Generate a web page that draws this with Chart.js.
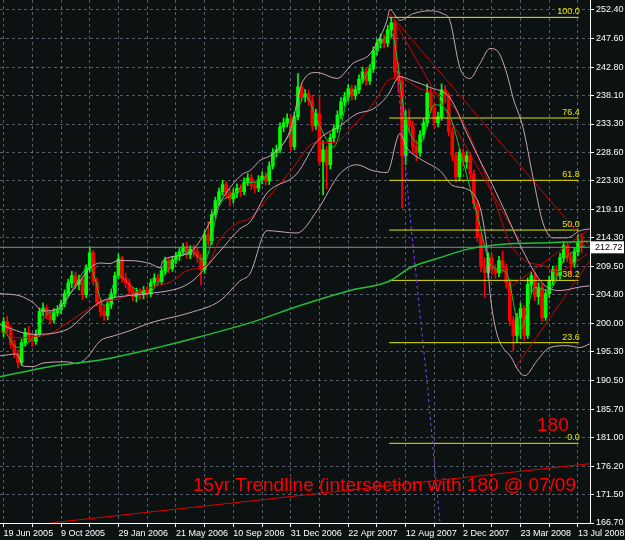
<!DOCTYPE html>
<html>
<head>
<meta charset="utf-8">
<script src="https://cdn.jsdelivr.net/npm/chart.js@4.4.0/dist/chart.umd.min.js"></script>
<style>
  html, body { margin: 0; padding: 0; background: #0c1212; }
  #c { display: block; }
</style>
</head>
<body>
<canvas id="c" width="625" height="540"></canvas>
<script>
// weekly GBP/JPY style candles, week 0 = 19 Jun 2005
const opens = [198.5,200.3,199.0,196.5,195.0,193.5,196.8,198.5,197.4,197.0,198.2,202.0,202.6,201.5,200.6,201.8,202.3,203.3,205.0,206.8,
  208.0,206.5,207.3,204.8,209.2,211.8,207.0,203.5,202.0,201.3,203.2,205.0,208.0,210.8,207.5,206.8,205.5,204.5,205.2,204.8,
  205.6,205.0,206.8,207.6,207.0,208.8,210.5,209.2,210.6,211.2,212.0,212.8,211.5,212.4,212.0,211.0,209.0,214.8,213.8,218.2,
  220.5,222.0,223.2,221.8,220.8,221.8,222.6,222.0,223.6,224.3,223.0,222.6,224.0,224.6,223.8,226.3,228.5,229.0,232.8,233.5,
  234.2,229.5,234.5,239.5,237.8,238.3,237.2,233.0,235.0,227.0,229.0,226.5,231.0,232.5,234.8,237.0,237.8,239.2,238.0,239.0,
  240.8,242.0,240.5,242.5,245.5,246.8,247.5,246.8,249.0,250.2,242.0,240.5,228.0,234.0,233.0,229.5,228.5,231.5,233.5,238.5,
  236.0,233.5,234.5,239.0,238.0,232.0,228.0,224.5,228.5,227.0,228.0,225.0,220.0,214.5,209.5,208.5,211.0,209.0,208.5,210.5,
  209.3,206.8,200.5,198.0,201.0,202.5,198.0,206.5,208.0,204.5,206.0,201.0,205.0,207.2,209.0,208.0,211.0,213.0,211.0,210.0,
  212.0,213.5];
const closes = [200.3,199.0,196.5,195.0,193.5,196.8,198.5,197.4,197.0,198.2,202.0,202.6,201.5,200.6,201.8,202.3,203.3,205.0,206.8,208.0,
  206.5,207.3,204.8,209.2,211.8,207.0,203.5,202.0,201.3,203.2,205.0,208.0,210.8,207.5,206.8,205.5,204.5,205.2,204.8,205.6,
  205.0,206.8,207.6,207.0,208.8,210.5,209.2,210.6,211.2,212.0,212.8,211.5,212.4,212.0,211.0,209.0,214.8,213.8,218.2,220.5,
  222.0,223.2,221.8,220.8,221.8,222.6,222.0,223.6,224.3,223.0,222.6,224.0,224.6,223.8,226.3,228.5,229.0,232.8,233.5,234.2,
  229.5,234.5,239.5,237.8,238.3,237.2,233.0,235.0,227.0,229.0,226.5,231.0,232.5,234.8,237.0,237.8,239.2,238.0,239.0,240.8,
  242.0,240.5,242.5,245.5,246.8,247.5,246.8,249.0,250.2,242.0,240.5,228.0,234.0,233.0,229.5,228.5,231.5,233.5,238.5,236.0,
  233.5,234.5,239.0,238.0,232.0,228.0,224.5,228.5,227.0,228.0,225.0,220.0,214.5,209.5,208.5,211.0,209.0,208.5,210.5,209.3,
  206.8,200.5,198.0,201.0,202.5,198.0,206.5,208.0,204.5,206.0,201.0,205.0,207.2,209.0,208.0,211.0,213.0,211.0,210.0,212.0,
  213.5,212.72];
const highs = [201.0,201.2,199.6,197.2,195.6,197.4,199.2,199.5,198.3,198.9,202.6,203.4,203.1,202.0,202.5,203.0,203.9,205.6,207.4,208.7,
  208.6,208.1,207.8,209.8,212.8,212.2,207.6,204.2,203.0,203.9,205.7,208.6,211.6,211.2,208.4,207.4,206.1,205.9,205.8,206.2,
  206.2,207.4,208.3,208.2,209.4,211.1,211.0,211.2,211.9,212.7,213.4,213.6,213.0,213.1,212.6,211.6,215.5,217.0,218.8,221.1,
  222.6,223.9,223.7,222.5,222.5,223.3,223.2,224.3,225.0,224.9,223.7,224.7,225.3,225.2,227.0,229.2,229.8,233.5,234.3,235.0,
  234.8,235.2,241.7,240.2,239.1,239.0,237.9,235.8,237.7,230.5,229.6,231.7,233.2,235.5,237.7,238.6,239.9,239.8,239.7,241.5,
  242.8,242.6,243.2,246.2,247.5,248.3,248.2,249.8,251.1,250.6,243.5,241.2,235.5,235.8,233.8,230.6,232.2,234.2,240.0,239.2,
  236.8,235.3,240.0,239.7,238.5,232.7,228.6,229.1,229.2,228.7,228.5,225.6,220.6,215.1,211.0,211.8,211.6,209.8,211.2,212.1,
  209.9,207.4,201.2,201.7,203.4,203.0,207.6,208.6,208.6,206.8,206.6,205.7,207.9,209.6,209.7,211.7,213.6,213.5,211.8,212.7,
  214.8,215.0];
const lows = [197.8,198.4,195.9,194.3,192.6,193.0,196.2,196.9,196.2,196.5,197.8,201.3,200.8,199.9,200.1,201.2,201.6,202.8,204.5,206.0,
  205.8,205.6,204.0,204.3,208.6,206.4,202.9,201.2,200.5,200.6,202.5,204.4,207.5,206.9,206.0,204.8,203.8,203.6,204.0,204.1,
  204.3,204.5,206.1,206.3,206.5,208.2,208.5,208.7,210.0,210.5,211.4,210.9,210.8,211.2,210.2,206.5,208.4,213.0,213.2,217.6,
  219.8,221.4,221.0,219.6,220.1,221.0,221.2,221.5,223.0,222.3,221.8,222.0,223.3,223.1,223.2,225.8,227.8,228.5,232.0,232.8,
  228.8,229.0,234.0,237.0,237.0,236.4,232.2,232.4,226.4,221.5,222.5,225.8,230.3,231.9,234.2,236.3,237.1,237.3,237.4,238.4,
  240.1,239.8,239.9,241.9,244.8,246.0,246.0,246.2,247.8,241.0,238.5,219.3,226.5,231.8,228.4,227.2,227.9,230.8,232.9,235.2,
  232.6,232.8,233.9,236.8,231.3,227.2,223.6,223.8,226.2,225.9,224.2,219.2,213.7,208.6,204.3,207.6,208.2,207.6,207.8,208.6,
  205.9,199.6,195.5,196.8,197.5,197.2,197.5,205.2,203.8,203.2,200.4,200.5,204.3,206.5,207.3,207.4,210.2,210.3,208.2,209.4,
  211.3,211.8];

// y axis tick labels (right side)
const yTicks = [252.40,247.60,242.80,238.10,233.30,228.60,223.80,219.10,214.30,209.50,204.80,200.00,195.30,190.50,185.70,181.00,176.20,171.50,166.70];
// x axis: label every 16 weeks, grid every 8
const xLabelWeeks = [0,16,32,48,64,80,96,112,128,144,160];
const xLabels = ['19 Jun 2005','9 Oct 2005','29 Jan 2006','21 May 2006','10 Sep 2006','31 Dec 2006','22 Apr 2007','12 Aug 2007','2 Dec 2007','23 Mar 2008','13 Jul 2008'];

// Bollinger bands (week, value)
const bbUpperWeeks = [-1,4.6,8.2,11,14.9,17.7,21.3,24.1,26.9,29.6,31.9,35.2,40.8,43.6,44.4,51.1,54.7,59.4,63.1,66.7,68.6,71.4,75,79.8,83.4,87.3,92.9,97.3,102.1,104.8,106.8,107.6,110.4,114,118.8,122.4,124.3,127.1,129.9,132.7,135.5,137.4,140.2,141.9,144.7,147.5,150.3,153,156.9,160.6,163.3];
const bbUpperValues = [205.0,204.6,203.5,202.1,202.4,204.3,207.1,209.3,210.1,210.0,210.5,210.5,210.0,209.3,210.5,211.6,213.8,219.3,222.7,225.0,225.5,227.2,228.3,232.2,240.5,241.9,240.9,243.4,245.0,247.7,250.6,252.4,250.6,251.7,252.2,251.7,250.6,242.7,240.9,243.4,245.9,245.6,241.7,237.7,232.7,224.3,216.7,214.3,214.3,215.5,215.8];
const bbMidWeeks = [-1,8.2,17.7,23.2,26.9,35.2,40.8,51.9,60.3,65.8,68.6,73.4,81.7,87.3,93.7,98.4,102.9,106.8,110.4,114,118.8,124.3,129.1,132.7,136.3,140.2,144.7,150.3,155,160.6,163.3];
const bbMidValues = [199.8,198.2,199.0,201.8,203.6,204.7,205.0,206.8,212.1,215.8,216.9,221.8,225.0,230.4,233.0,235.0,235.8,237.9,241.2,240.5,239.4,237.7,231.7,227.2,223.0,218.0,212.1,206.6,205.5,206.1,206.3];
const bbLowerWeeks = [-1,3.7,5.4,8.2,11,17.7,20.4,23.2,26.9,30.5,35.2,40.8,51.9,60.3,65.8,68.6,73.4,81.7,87.3,93.7,98.4,102.9,106.8,110.4,112.4,116.8,121.6,125.2,130.8,134.6,135.5,141.9,145.2,148.6,152.2,156.9,160.6,163.3];
const bbLowerValues = [194.6,194.9,192.9,192.8,193.4,193.6,193.3,194.3,197.1,197.9,198.8,200.1,201.8,203.8,207.1,208.3,215.5,215.1,218.8,225.0,226.5,225.5,225.2,231.7,229.3,227.2,225.5,223.0,221.7,212.6,205.0,193.8,191.3,193.8,196.0,196.3,196.0,196.6];

// red moving average
const redMaWeeks = [-1,4,8,13,17.7,22,27,32,36,41,47,51,57,60,65,69,73,80,87,92,98,103,107,110,116,121.6,127,132.7,136.8,141,145,150.8,154,158.6,162.5];
const redMaValues = [198.8,197.6,197.8,198.3,200.1,201.8,203.5,204.1,205.0,206.0,207.1,208.8,210.0,213.8,216.7,217.7,220.5,225.5,230.2,230.2,233.4,236.7,240.5,241.0,239.2,238.1,234.8,227.2,220.5,213.5,210.6,209.6,208.6,209.9,211.6];
// short green moving average
const fastMaWeeks = [0,4,8,12,16,20,24,28,32,36,40,44,48,52,56,60,64,68,72,76,80,84,88,92,96,100,104,108,112,116,120,124,128,132,136,140,144,148,152,156,160,162];
const fastMaValues = [199.0,196.0,197.5,201.5,202.5,206.5,209.5,203.0,208.0,206.0,205.0,207.5,210.5,212.0,210.5,219.5,221.5,223.5,223.8,228.3,232.0,238.0,233.0,229.5,237.8,240.2,245.5,248.5,234.0,230.0,236.5,235.0,227.0,218.0,209.5,208.5,199.0,206.0,205.5,210.5,212.5,213.0];
// long (thick) green moving average
const slowMaWeeks = [-1,12.9,26.9,35.2,43.6,54.7,68.6,82.6,96.5,107.6,113.2,121.6,129.9,141.1,152.2,162,163.3];
const slowMaValues = [191.1,192.8,193.9,194.9,196.1,197.8,200.1,203.0,205.5,207.1,209.3,211.0,212.5,213.3,213.5,213.7,213.7];

// fibonacci retracement
const fibNames = ['100.0','76.4','61.8','50.0','38.2','23.6','0.0'];
const fibValues = [251.1,234.3,223.9,215.6,207.2,196.8,180.0];
const fibWeeks = [107.4,160.2];

// trend lines (week, value) pairs
const trendPeakA = [[107.6,251.7],[163.3,212.8]];
const trendPeakB = [[108.5,250.9],[143.8,213.7]];
const wedgeLow = [[142.5,192.6],[163.3,210.5]];
const wedgeHigh = [[141.6,206.3],[163.3,215.8]];
const longTrend = [[12.9,166.7],[163.3,176.6]];
const cycleLine = [[109.6,242.2],[113.2,218.0],[116.0,201.6],[118.2,188.8],[119.9,177.1],[121.6,166.7]];
const lastPrice = 212.72;
const noteText = '15yr Trendline (intersection with 180 @ 07/09';

const BULL = '#00ff00', BEAR = '#ff0000';
const weeks = closes.map((c, i) => i);
const candleColors = closes.map((c, i) => c >= opens[i] ? BULL : BEAR);

function pairs(ws, vs) { return ws.map((w, i) => ({x: w, y: vs[i]})); }
function seg(p) { return p.map(q => ({x: q[0], y: q[1]})); }
function lineDs(data, color, width, extra) {
  return Object.assign({type: 'line', data, borderColor: color, borderWidth: width, pointRadius: 0,
    fill: false, order: 1, tension: 0}, extra || {});
}

const datasets = [
  {type: 'bar', data: weeks.map(i => ({x: i, y: [lows[i], highs[i]]})), backgroundColor: candleColors,
    barThickness: 1, grouped: false, order: 10},
  {type: 'bar', data: weeks.map(i => ({x: i, y: [opens[i], closes[i]]})), backgroundColor: candleColors,
    barThickness: 3, grouped: false, minBarLength: 1, order: 9},
  lineDs(pairs(slowMaWeeks, slowMaValues), '#1fbf3a', 1.5, {cubicInterpolationMode: 'monotone'}),
  lineDs(pairs(bbUpperWeeks, bbUpperValues), '#c9a3b6', 1, {cubicInterpolationMode: 'monotone'}),
  lineDs(pairs(bbMidWeeks, bbMidValues), '#c9a3b6', 1, {cubicInterpolationMode: 'monotone'}),
  lineDs(pairs(bbLowerWeeks, bbLowerValues), '#c9a3b6', 1, {cubicInterpolationMode: 'monotone'}),
  lineDs(pairs(redMaWeeks, redMaValues), '#d80000', 1, {cubicInterpolationMode: 'monotone'}),
  lineDs(pairs(fastMaWeeks, fastMaValues), '#10c830', 1, {cubicInterpolationMode: 'monotone'}),
  lineDs([{x: -1, y: lastPrice}, {x: 163.3, y: lastPrice}], '#8a8a8a', 1),
  lineDs(seg(trendPeakA), '#d00000', 1),
  lineDs(seg(trendPeakB), '#d00000', 1),
  lineDs(seg(wedgeLow), '#d00000', 1),
  lineDs(seg(wedgeHigh), '#d00000', 1),
  lineDs(seg(longTrend), '#e00000', 1),
  lineDs(seg(cycleLine), '#8a3cff', 1, {borderDash: [3, 3]})
];
fibValues.forEach(v => {
  datasets.push(lineDs([{x: fibWeeks[0], y: v}, {x: fibWeeks[1], y: v}], '#e6e600', 1));
});

const overlay = {
  id: 'overlay',
  afterDraw(chart) {
    const {ctx, scales: {x, y}} = chart;
    ctx.save();
    ctx.font = '9px "Liberation Sans"';
    ctx.fillStyle = '#e6e600';
    ctx.textAlign = 'right';
    ctx.textBaseline = 'bottom';
    fibValues.forEach((v, i) => ctx.fillText(fibNames[i], x.getPixelForValue(fibWeeks[1]) + 1, y.getPixelForValue(v) - 1));

    ctx.fillStyle = '#ff0000';
    ctx.textAlign = 'left';
    ctx.textBaseline = 'alphabetic';
    ctx.font = '19px "Liberation Sans"';
    ctx.fillText('180', 537, 431);
    ctx.fillText(noteText, 193, 491);

    // last price tag
    const py = y.getPixelForValue(lastPrice);
    ctx.fillStyle = '#ffffff';
    ctx.fillRect(591, py - 6, 33, 12);
    ctx.fillStyle = '#000000';
    ctx.font = '9px "Liberation Sans"';
    ctx.textBaseline = 'middle';
    ctx.fillText(lastPrice.toFixed(2), 595, py + 0.5);
    ctx.restore();
  }
};

const gridColor = 'rgba(150,150,175,0.55)';
new Chart(document.getElementById('c'), {
  type: 'bar',
  data: {datasets},
  options: {
    responsive: false,
    animation: false,
    events: [],
    layout: {padding: 0},
    plugins: {legend: {display: false}, tooltip: {enabled: false}},
    scales: {
      x: {
        type: 'linear', min: -1, max: 163.35, offset: false,
        grid: {color: gridColor, offset: false, tickLength: 4, tickColor: '#ffffff'},
        border: {color: '#ffffff', dash: [3, 3]},
        afterBuildTicks: s => { s.ticks = []; for (let w = 0; w <= 160; w += 8) s.ticks.push({value: w}); },
        afterFit: s => { s.height = 17; s.paddingLeft = 0; s.paddingRight = 0; },
        ticks: {
          color: '#ffffff', font: {family: 'Liberation Sans', size: 9}, align: 'start', padding: 1,
          autoSkip: false, maxRotation: 0,
          callback: v => { const k = xLabelWeeks.indexOf(v); return k >= 0 ? xLabels[k] : ''; }
        }
      },
      y: {
        position: 'right', min: 166.7, max: 254.0,
        grid: {color: gridColor, tickLength: 4, tickColor: '#ffffff'},
        border: {color: '#ffffff', dash: [3, 3]},
        afterBuildTicks: s => { s.ticks = yTicks.map(v => ({value: v})); },
        afterFit: s => { s.width = 35; s.paddingTop = 0; s.paddingBottom = 0; },
        ticks: {
          color: '#ffffff', font: {family: 'Liberation Sans', size: 9}, padding: 2,
          callback: v => v.toFixed(2)
        }
      }
    }
  },
  plugins: [overlay]
});
</script>
</body>
</html>
